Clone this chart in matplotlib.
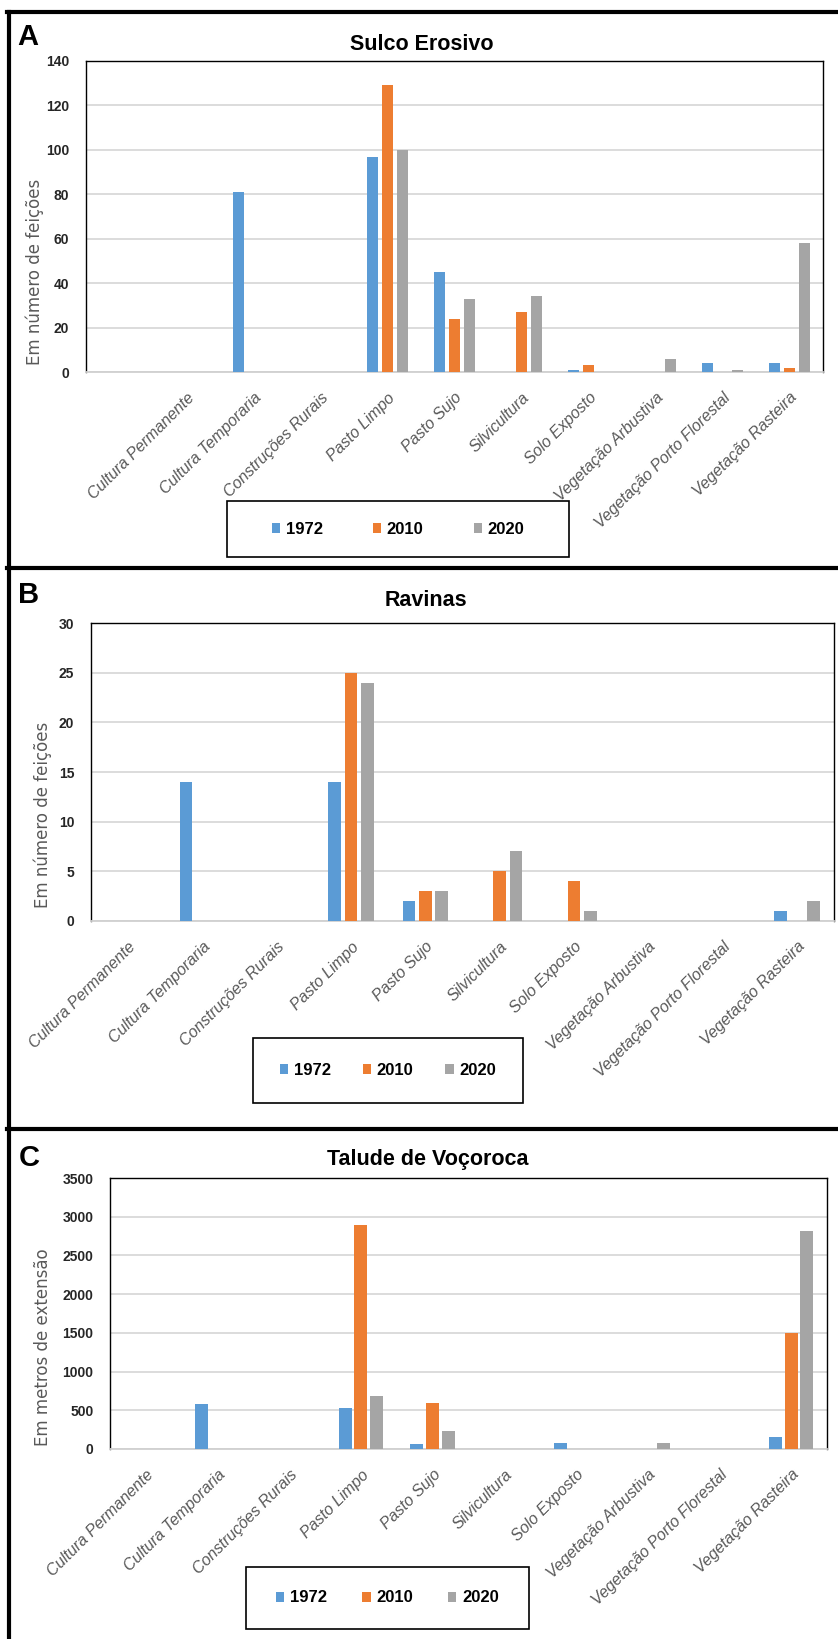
import numpy as np
import matplotlib
matplotlib.use('Agg')
import matplotlib.pyplot as plt
from matplotlib.lines import Line2D
from matplotlib.patches import Rectangle

categories = ['Cultura Permanente', 'Cultura Temporaria', 'Construções Rurais',
              'Pasto Limpo', 'Pasto Sujo', 'Silvicultura', 'Solo Exposto',
              'Vegetação Arbustiva', 'Vegetação Porto Florestal',
              'Vegetação Rasteira']
years = ['1972', '2010', '2020']

sulco_1972 = [0, 81, 0, 97, 45, 0, 1, 0, 4, 4]
sulco_2010 = [0, 0, 0, 129, 24, 27, 3, 0, 0, 2]
sulco_2020 = [0, 0, 0, 100, 33, 34, 0, 6, 1, 58]

ravinas_1972 = [0, 14, 0, 14, 2, 0, 0, 0, 0, 1]
ravinas_2010 = [0, 0, 0, 25, 3, 5, 4, 0, 0, 0]
ravinas_2020 = [0, 0, 0, 24, 3, 7, 1, 0, 0, 2]

talude_1972 = [0, 575, 0, 530, 60, 0, 80, 0, 0, 150]
talude_2010 = [0, 0, 0, 2890, 600, 0, 0, 0, 0, 1500]
talude_2020 = [0, 0, 0, 680, 235, 0, 0, 80, 0, 2820]

colors = ['#5B9BD5', '#ED7D31', '#A5A5A5']

W, H = 838, 1639
fig = plt.figure(figsize=(W / 100, H / 100), dpi=100)


def px_rect(l, t, r, b):
    return [l / W, 1 - b / H, (r - l) / W, (b - t) / H]


def hline(y, x0=7, x1=W):
    fig.add_artist(Line2D([x0 / W, x1 / W], [1 - y / H, 1 - y / H],
                          transform=fig.transFigure, color='black', lw=3))


def draw_panel(rect, series, ymax, ystep, xmin, title, ylabel, letter,
               title_xy, letter_xy, ylabel_xy, legbox, colspace, width):
    ax = fig.add_axes(px_rect(*rect))
    x = np.arange(len(categories))
    for i, (vals, c) in enumerate(zip(series, colors)):
        ax.bar(x + (i - 1) * 0.22, vals, width=width, color=c,
               label=years[i], zorder=3)
    ax.set_xlim(xmin, len(categories) - 0.5)
    ax.set_ylim(0, ymax)
    ax.set_yticks(np.arange(0, ymax + 1, ystep))
    ax.yaxis.grid(True, color='#d9d9d9', lw=1.3, zorder=0)
    ax.set_axisbelow(True)
    ax.tick_params(axis='y', length=0, pad=12, labelsize=10,
                   labelcolor='#262626')
    for t in ax.get_yticklabels():
        t.set_fontweight('bold')
    ax.set_xticks(x)
    ax.set_xticklabels(categories, rotation=45, ha='right',
                       rotation_mode='anchor', fontsize=11.5,
                       style='italic', color='#595959')
    ax.tick_params(axis='x', length=0, pad=13)
    for s in ['left', 'top', 'right']:
        ax.spines[s].set_color('black')
        ax.spines[s].set_linewidth(1.0)
    ax.spines['bottom'].set_color('#d0d0d0')
    ax.spines['bottom'].set_linewidth(1.3)

    fig.text(title_xy[0] / W, 1 - title_xy[1] / H, title, ha='center',
             va='center', fontsize=15.5, fontweight='bold',
             family='Liberation Sans')
    fig.text(letter_xy[0] / W, 1 - letter_xy[1] / H, letter, ha='center',
             va='center', fontsize=21, fontweight='bold',
             family='Liberation Sans')
    fig.text(ylabel_xy[0] / W, 1 - ylabel_xy[1] / H, ylabel, ha='center',
             va='center', rotation=90, fontsize=12, color='#595959',
             family='DejaVu Sans')

    l, t, r, b = legbox
    fig.add_artist(Rectangle((l / W, 1 - b / H), (r - l) / W, (b - t) / H,
                             transform=fig.transFigure, fill=False,
                             edgecolor='black', lw=1.2))
    fig.legend(*ax.get_legend_handles_labels(), loc='center',
               bbox_to_anchor=((l + r) / 2 / W, 1 - (t + b) / 2 / H),
               bbox_transform=fig.transFigure, ncol=3, frameon=False,
               handlelength=0.5, handleheight=0.55, handletextpad=0.35,
               columnspacing=colspace,
               prop={'family': 'Liberation Sans', 'weight': 'bold',
                     'size': 12})
    return ax


plt.rcParams['font.family'] = ['Liberation Sans', 'DejaVu Sans']

draw_panel((86, 61, 823, 372), [sulco_1972, sulco_2010, sulco_2020],
           140, 20, -1.5, 'Sulco Erosivo', 'Em número de feições', 'A',
           (422, 45), (28, 37), (35, 272), (227, 501, 569, 557), 3.0, 0.16)

draw_panel((91, 623, 834, 921), [ravinas_1972, ravinas_2010, ravinas_2020],
           30, 5, -0.5, 'Ravinas', 'Em número de feições', 'B',
           (426, 600), (29, 595), (43, 815), (253, 1038, 523, 1103), 1.9,
           0.17)

draw_panel((110, 1178, 827, 1449), [talude_1972, talude_2010, talude_2020],
           3500, 500, -0.5, 'Talude de Voçoroca', 'Em metros de extensão',
           'C', (428, 1160), (29, 1158), (43, 1347), (246, 1567, 529, 1629),
           2.1, 0.18)

# frame around the panels
fig.add_artist(Line2D([8.5 / W, 8.5 / W], [1 - 12 / H, 0],
                      transform=fig.transFigure, color='black', lw=3))
hline(12)
hline(568)
hline(1129)

fig.savefig('out.png', dpi=100)
